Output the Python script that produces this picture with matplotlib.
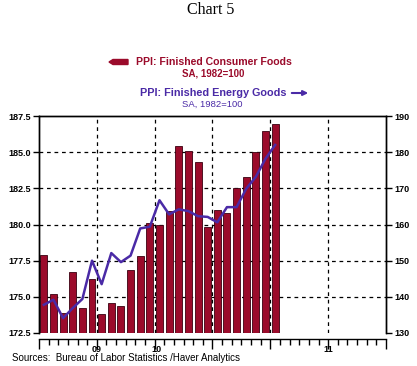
import matplotlib
matplotlib.use("Agg")
import matplotlib.pyplot as plt
import matplotlib.transforms as mtransforms
import numpy as np

# monthly data, Jan 2009 - Jan 2011
months = np.arange(25) + 0.5
foods = [177.9, 175.2, 173.9, 176.7, 174.2, 176.2, 173.8, 174.6, 174.4, 176.85,
         177.8, 180.1, 180.0, 180.95, 185.4, 185.05, 184.3, 179.8, 181.0, 180.8,
         182.5, 183.3, 185.0, 186.45, 186.95]
energy = [137.8, 139.2, 134.1, 136.9, 139.4, 150.0, 143.5, 152.1, 149.6, 151.4,
          158.9, 159.4, 166.7, 162.8, 164.2, 163.7, 162.3, 162.1, 160.6, 164.8,
          164.8, 169.9, 173.2, 178.2, 182.0]
left_ticks = [172.5, 175.0, 177.5, 180.0, 182.5, 185.0, 187.5]
right_ticks = [130, 140, 150, 160, 170, 180, 190]
year_labels = ["09", "10", "11"]
year_pos = [6, 12.2, 30]

red = "#9b0b2b"
blue = "#4a2aa6"
plt.rcParams['font.family'] = ['Liberation Sans', 'DejaVu Sans']

W, H = 417, 366
fig = plt.figure(figsize=(W / 100, H / 100), dpi=100)
ax = fig.add_axes([39 / W, 1 - 333 / H, (386 - 39) / W, (333 - 116) / H])

ax.bar(months, foods, width=0.72, color=red, edgecolor="#3a0010", linewidth=0.6, zorder=2)
ax.set_xlim(0, 36)
ax.set_ylim(172.5, 187.5)
ax.set_yticks(left_ticks)
ax.set_yticklabels(["%.1f" % v for v in left_ticks], fontsize=6.5, fontweight="bold")
ax.set_xticks(np.arange(0, 37, 6))
ax.set_xticks(np.arange(0, 37, 1), minor=True)
ax.set_xticklabels([])
ax.tick_params(axis="x", which="major", length=7, width=1, direction="out")
ax.tick_params(axis="x", which="minor", length=4, width=1, direction="out")
ax.tick_params(axis="y", length=4, width=1, pad=2)
ax.spines["bottom"].set_position(("outward", 4))
for s in ax.spines.values():
    s.set_linewidth(1)

# dashed grid
for v in [175, 177.5, 180, 182.5, 185]:
    ax.axhline(v, color="black", lw=0.9, ls=(0, (3, 3)), zorder=1)
for m in [6, 12, 18, 24, 30]:
    ax.axvline(m, color="black", lw=0.9, ls=(0, (3, 3)), zorder=1)

ax2 = ax.twinx()
ax2.plot(months, energy, color=blue, lw=1.8, zorder=3)
ax2.set_ylim(130, 190)
ax2.set_yticks(right_ticks)
ax2.set_yticklabels([str(v) for v in right_ticks], fontsize=6.5, fontweight="bold")
ax2.tick_params(axis="y", length=4, width=1, pad=2)
ax2.spines["bottom"].set_visible(False)
for s in ax2.spines.values():
    s.set_linewidth(1)

trans = mtransforms.blended_transform_factory(ax.transData, ax.transAxes)
for lab, p in zip(year_labels, year_pos):
    ax.text(p, -(349 - 333) / 217, lab, transform=trans, ha="center", va="center",
            fontsize=6.5, fontweight="bold")

fig.text(12 / W, 1 - 358 / H, "Sources:  Bureau of Labor Statistics /Haver Analytics",
         fontsize=7, va="center", ha="left")

# titles and legend text
fig.text(211 / W, 1 - 10 / H, "Chart 5", family="Liberation Serif", fontsize=11.5,
         ha="center", va="center")
fig.text(214 / W, 1 - 62 / H, "PPI: Finished Consumer Foods", color=red, fontsize=7.6,
         fontweight="bold", ha="center", va="center")
fig.text(213 / W, 1 - 74 / H, "SA, 1982=100", color=red, fontsize=7,
         fontweight="bold", ha="center", va="center")
fig.text(213 / W, 1 - 93 / H, "PPI: Finished Energy Goods", color=blue, fontsize=7.8,
         fontweight="bold", ha="center", va="center")
fig.text(212 / W, 1 - 104 / H, "SA, 1982=100", color=blue, fontsize=6.8,
         ha="center", va="center")

fig.patches.append(plt.matplotlib.patches.FancyArrow(
    128 / W, 1 - 62 / H, -19 / W, 0, width=5 / H, head_width=5 / H, head_length=4 / W,
    length_includes_head=True, color=red, transform=fig.transFigure, figure=fig))
ax.annotate("", xy=(311 / W, 1 - 93 / H), xytext=(289 / W, 1 - 93 / H),
            xycoords="figure fraction", textcoords="figure fraction",
            arrowprops=dict(arrowstyle="-|>", color=blue, lw=1.5, mutation_scale=7))

fig.savefig("out.png", dpi=100)
